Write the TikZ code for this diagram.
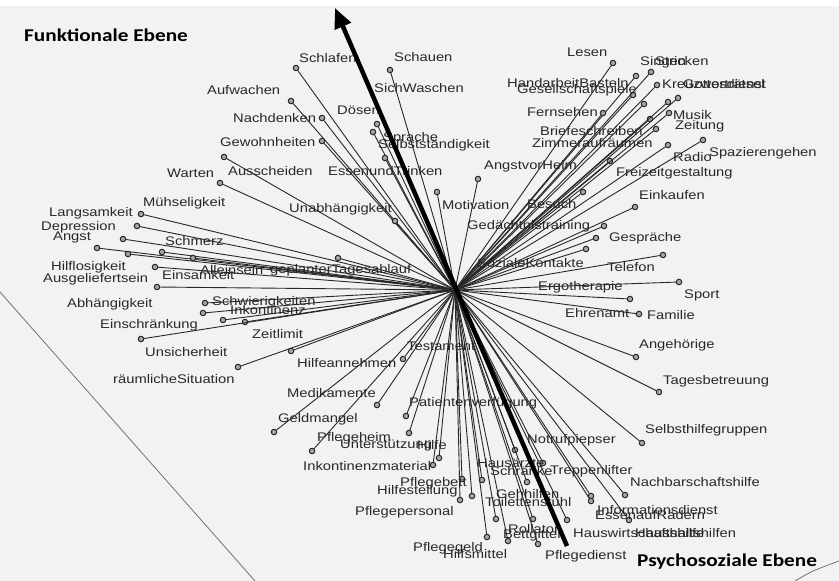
\documentclass[tikz,border=0pt]{standalone}
\usepackage{fontspec}
\newfontfamily\lblfont[FakeStretch=1.18]{Liberation Sans}
\newfontfamily\ttlfont[FakeStretch=1.18]{Carlito}
\usetikzlibrary{arrows.meta}
\definecolor{bggray}{RGB}{242,242,242}
\definecolor{inkgray}{RGB}{40,40,40}
\tikzset{% styles for the spokes, their end dots and the labels
   spoke/.style={draw=inkgray, line width=0.9pt},
   enddot/.style={circle, draw=inkgray, fill=black!35, line width=1pt,
                  minimum size=5.5pt, inner sep=0pt},
   lbl/.style={anchor=west, inner sep=0pt, text=inkgray,
               font=\lblfont\fontsize{12.5}{14}\selectfont},
   ttl/.style={anchor=west, inner sep=0pt, text=black,
               font=\ttlfont\bfseries\fontsize{18}{20}\selectfont},
   axisarrow/.style={line width=4.5pt, -{Triangle[length=20pt,width=17pt]}},
   frameline/.style={draw=black!55, line width=0.8pt}
}

\begin{document}
\begin{tikzpicture}[x=1pt,y=-1pt]
     \useasboundingbox (0,0) rectangle (839,581);
     \fill[bggray] (0,6) rectangle (839,581);
     % edges of the plot plane
     \draw[frameline] (0,292) -- (255,581);
     \draw[frameline] (795,581) .. controls (812,571) .. (839,561);
     \coordinate (c) at (455,290);
     % spokes from the centre to every item
     \foreach \x/\y [count=\i] in {296/68, 291/101, 322/118, 322/141, 377/124,
           373/132, 390/70, 385/158, 224/157, 220/183, 141/214, 137/226,
           123/239, 97/248, 128/254, 162/252, 193/258, 155/267, 157/287,
           338/258, 395/221, 437/192, 478/179, 205/303, 203/313, 223/320,
           245/322, 141/339, 291/351, 238/367, 403/359, 377/405, 406/416,
           274/432, 409/433, 312/451, 439/458, 433/465, 462/479, 460/500,
           472/496, 482/480, 487/537, 496/519, 508/541, 533/519, 538/544,
           567/520, 591/496, 591/501, 625/495, 629/520, 515/450, 527/482,
           543/463, 642/443, 659/392, 636/357, 639/314, 630/299, 679/282,
           663/255, 586/249, 596/238, 604/226, 635/207, 583/192, 610/161,
           703/140, 668/145, 656/129, 650/119, 669/113, 644/104, 668/102,
           678/98, 657/85, 633/95, 636/76, 651/72, 613/63, 603/113} {
         \node[enddot] (d\i) at (\x,\y) {};
         \draw[spoke] (c) -- (d\i);
     }
     % item labels
     \foreach \x/\y/\t [count=\i] in {299/58/Schlafen, 394/57/Schauen,
           207/90/Aufwachen, 374/88/SichWaschen, 233/118/Nachdenken,
           337/110/Dösen, 220/142/Gewohnheiten, 383/138/Sprache,
           378/145/Selbstständigkeit, 167/173/Warten, 228/171/Ausscheiden,
           328/171/EssenundTrinken, 484/166/AngstvorHeim, 143/203/Mühseligkeit,
           442/205/Motivation, 289/209/Unabhängigkeit, 527/204/Besuch,
           49/213/Langsamkeit, 41/227/Depression, 53/237/Angst,
           165/241/Schmerz, 467/226/Gedächtnistraining, 51/267/Hilflosigkeit,
           162/275/Einsamkeit, 200/270/Alleinsein, 270/270/geplanterTagesablauf,
           43/279/Ausgeliefertsein, 477/263/SozialeKontakte, 67/304/Abhängigkeit,
           212/302/Schwierigkeiten, 230/310/Inkontinenz, 100/325/Einschränkung,
           252/334/Zeitlimit, 145/352/Unsicherheit, 407/346/Testament,
           297/363/Hilfeannehmen, 113/379/räumlicheSituation, 287/393/Medikamente,
           409/403/Patientenverfügung, 278/419/Geldmangel, 317/438/Pflegeheim,
           340/445/Unterstützung, 417/445/Hilfe, 303/466/Inkontinenzmaterial,
           400/483/Pflegebett, 377/491/Hilfestellung, 355/512/Pflegepersonal,
           413/548/Pflegegeld, 443/554/Hilfsmittel, 477/463/Hausärzte,
           490/471/Schränke, 550/471/Treppenlifter, 527/440/Notrufpiepser,
           496/494/Gehhilfen, 485/502/Toilettenstuhl, 508/529/Rollator,
           503/535/Bettgitter, 630/482/Nachbarschaftshilfe,
           597/510/Informationsdienst, 595/515/EssenaufRädern,
           573/533/Hauswirtschaftshilfe, 635/533/Haushaltshilfen,
           545/556/Pflegedienst, 567/52/Lesen, 640/62/Singen, 655/61/Stricken,
           507/83/HandarbeitBasteln, 517/90/Gesellschaftspiele,
           662/84/Kreuzworträtsel, 683/84/Gottesdienst, 527/112/Fernsehen,
           673/115/Musik, 675/126/Zeitung, 540/131/Briefeschreiben,
           532/143/Zimmeraufräumen, 673/157/Radio, 709/153/Spazierengehen,
           616/173/Freizeitgestaltung, 639/195/Einkaufen, 609/238/Gespräche,
           607/267/Telefon, 538/287/Ergotherapie, 684/295/Sport,
           565/313/Ehrenamt, 647/315/Familie, 639/345/Angehörige,
           663/381/Tagesbetreuung, 645/430/Selbsthilfegruppen} {
         \node[lbl] (t\i) at (\x,\y) {\t};
     }
     % the two axes
     \coordinate (psy) at (567,546);
     \coordinate (fkt) at (335,8);
     \draw[axisarrow] (psy) -- (fkt);
     \node[ttl] (fktlabel) at (24,35) {Funktionale Ebene};
     \node[ttl] (psylabel) at (637,562) {Psychosoziale Ebene};
\end{tikzpicture}
\end{document}
